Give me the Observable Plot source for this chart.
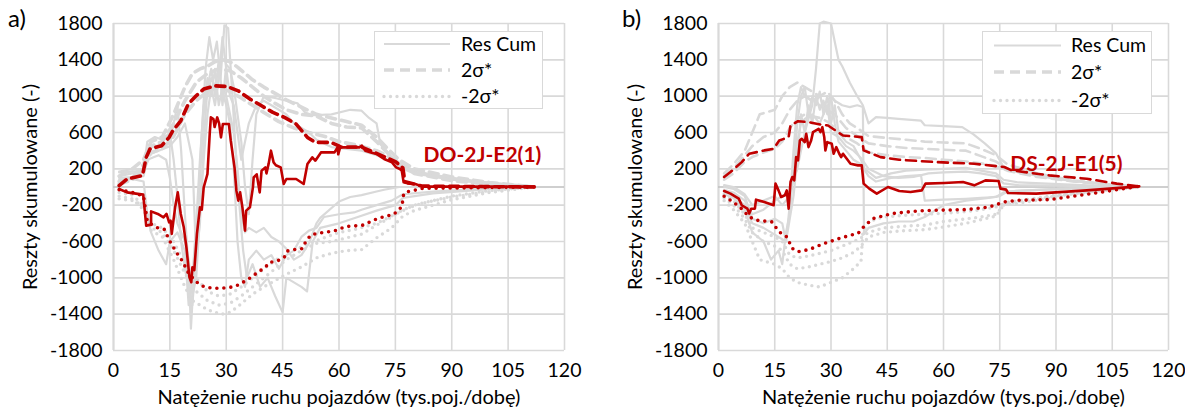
<!DOCTYPE html>
<html><head><meta charset="utf-8">
<script src="https://cdn.jsdelivr.net/npm/d3@7"></script>
<script src="https://cdn.jsdelivr.net/npm/@observablehq/plot@0.6"></script>
<style>
body{margin:0;background:#fff;font-family:Lato,"Open Sans",sans-serif;}
#wrap{position:relative;width:1185px;height:414px;overflow:hidden;}
.pnl{position:absolute;top:0;}
.tag{position:absolute;font-size:24px;color:#000;}
.legend{position:absolute;border:1.5px solid #d9d9d9;background:#fff;box-sizing:border-box;}
.legend svg{position:absolute;left:0;top:0;}
</style></head>
<body><div id="wrap"></div>
<script>
// ---------- axes ----------
const xTicks = [0,15,30,45,60,75,90,105,120];
const yTicks = [-1800,-1400,-1000,-600,-200,200,600,1000,1400,1800];
const xTitle = "Natężenie ruchu pojazdów (tys.poj./dobę)";
const yTitle = "Reszty skumulowane (-)";
const legendNames = ["Res Cum","2σ*","-2σ*"];

// ---------- panel a) : DO-2J-E2(1) ----------
const labelA = "DO-2J-E2(1)";
const redSolidA = [[1.5,-22],[3.6,-59],[7.9,-84],[8.7,-425],[10,-414],[10,-268],[11.8,-297],[13.3,-334],[14.1,-297],[14.8,-389],[15.2,-370],[15.5,-517],[16.4,-224],[17.1,-59],[17.9,-297],[18.7,-444],[19.4,-664],[20.2,-993],[20.7,-1048],[21,-883],[21.5,-915],[22.2,-517],[23,-224],[23.5,-250],[24,-4],[25,143],[25.6,583],[25.9,766],[26.6,748],[26.9,660],[27.6,766],[28.1,700],[28.6,546],[29.1,693],[30.7,693],[31.2,510],[32.2,216],[32.7,-40],[33.2,-150],[33.7,-59],[34.3,-224],[35,-480],[35.3,-260],[36.3,-224],[37.1,-4],[37.3,106],[38.1,140],[38.9,-59],[39.4,180],[40.4,216],[40.7,150],[41.3,260],[41.9,400],[42.6,271],[43.2,240],[44.5,216],[45.3,33],[46,88],[48.6,88],[50.6,33],[51.6,253],[52.9,326],[53.7,290],[55.2,381],[58.8,381],[59.6,436],[59.8,360],[60.3,436],[65.4,436],[66.1,455],[67,400],[68.5,381],[70,363],[72,308],[74.1,271],[75.2,216],[76.2,198],[76.7,180],[77.2,51],[78.2,40],[80.3,33],[82.3,4],[112,4]];
const redDashA = [[1.5,15],[3.6,88],[7.7,125],[8.7,326],[9.7,418],[12.8,455],[14.8,546],[15.8,620],[17.9,729],[19.9,913],[22,1004],[24,1078],[27.1,1114],[30.2,1107],[33.2,1059],[36.3,968],[39.4,894],[42.4,821],[45.5,766],[48.6,693],[51.6,546],[53.7,491],[57.8,491],[59.8,455],[60.5,440],[66,440],[70,370],[75,280],[77,210],[77.5,60],[82,10],[112,0]];
const redDotA = [[1.5,-30],[5,-60],[8,-100],[9,-380],[11.2,-443],[13.5,-466],[15.2,-613],[17,-737],[18.3,-814],[20.1,-960],[22.3,-1052],[24.1,-1100],[26.3,-1114],[28.5,-1114],[30.7,-1107],[32.5,-1092],[35.6,-1023],[38.3,-942],[40.5,-880],[41.4,-832],[43.6,-814],[45.4,-777],[46.3,-704],[48.5,-686],[50.3,-678],[51.1,-605],[52.5,-528],[54.3,-510],[58.7,-484],[61.8,-436],[64,-429],[66.2,-422],[68.4,-382],[70.2,-348],[72.4,-323],[74.6,-301],[76.9,-209],[76.9,-110],[77.7,-55],[80,-37],[82.2,-15],[112,0]];
const greySolidA1 = [[1.5,160],[5,170],[8,180],[9,420],[12,460],[15,480],[16,700],[17,900],[18,400],[19,-300],[20,-900],[20.6,-1560],[21.5,-900],[22.5,-200],[23.5,600],[24.5,1300],[25.5,1650],[26.5,1400],[27.5,1600],[28.5,1200],[29.5,1780],[30.5,1750],[31.5,1100],[32.5,400],[33.5,-200],[34.5,-700],[35.5,-1000],[37,-850],[39,-1100],[41,-1000],[43,-1200],[45,-1380],[46,-1000],[48,-1050],[50,-1100],[51.5,-1150],[53,-600],[55,-450],[60,-400],[65,-330],[70,-260],[75,-200],[77,-120],[85,-70],[100,-25],[112,0]];
const greySolidA2 = [[1.5,120],[5,150],[8,160],[9,350],[12,400],[15,450],[17,550],[19,700],[21,300],[22,-800],[23,-400],[24,500],[25,1100],[26,1300],[27,1000],[28,1400],[29,900],[30,1350],[31,1300],[32,1100],[33,800],[34,500],[35,0],[36,-300],[37,300],[38,800],[40,1000],[43,980],[46,950],[49,920],[51,820],[53,790],[58,800],[63,850],[66,840],[68,760],[70,700],[71,470],[73,380],[75,280],[77,220],[80,170],[85,130],[95,70],[105,20],[112,0]];
const greySolidA3 = [[1.5,80],[5,90],[8,60],[9,-300],[10,-500],[12,-700],[14,-850],[15,-600],[17,-500],[19,-700],[20,-1300],[21,-1000],[22,-400],[23,300],[24,900],[25,1000],[26,1200],[27,1100],[28,1300],[29,1050],[30,900],[31,700],[32,200],[33,-600],[34,-1000],[35,-1100],[36,-800],[38,-700],[40,-800],[42,-750],[44,-900],[46,-750],[48,-700],[50,-550],[52,-480],[54,-450],[56,-330],[60,-300],[64,-280],[66,-250],[70,-200],[74,-150],[77,-80],[85,-50],[100,-15],[112,0]];
const greySolidA4 = [[1.5,170],[4,190],[8,200],[9,500],[11,550],[13,520],[15,600],[16,300],[17,-100],[18,-600],[19,-900],[20,-1100],[21,-1300],[22,-700],[23,100],[24,800],[25,1200],[26,1000],[27,1300],[28,900],[29,1100],[30,1000],[31,800],[32,600],[33,200],[34,-300],[35,-500],[36,-450],[38,-500],[40,-450],[42,-550],[44,-600],[46,-680],[48,-800],[50,-750],[52,-620],[54,-400],[55,-340],[60,-160],[63,-110],[66,-90],[70,-50],[72,-30],[76,0],[80,0],[112,0]];
const greySolidA5 = [[1.5,100],[5,110],[8,120],[9,300],[12,350],[14,300],[15,100],[16,-200],[17,-400],[19,-600],[20,-800],[21,-1200],[22,-1000],[23,-300],[24,300],[25,800],[26,1100],[27,900],[28,1200],[29,1650],[30,1300],[31,1000],[32,900],[33,600],[34,300],[35,500],[36,700],[38,900],[40,950],[42,900],[44,850],[46,800],[48,700],[50,650],[52,600],[54,520],[56,480],[58,440],[62,420],[66,400],[70,350],[74,280],[77,200],[80,150],[90,80],[100,40],[112,0]];
const greyDashA1 = [[1.5,120],[5,200],[8,300],[10,500],[13,550],[16,800],[19,1100],[21,1250],[23,1300],[25,1330],[27,1380],[29,1400],[31,1380],[33,1320],[35,1250],[37,1180],[40,1100],[43,1030],[46,960],[50,880],[54,800],[58,760],[62,720],[66,680],[70,550],[73,420],[76,300],[80,200],[90,110],[100,50],[112,0]];
const greyDashA2 = [[1.5,60],[5,100],[8,250],[10,450],[13,500],[16,700],[19,950],[22,1150],[25,1250],[28,1300],[31,1280],[34,1200],[37,1100],[40,1000],[43,920],[46,850],[50,800],[54,780],[58,700],[62,660],[66,650],[70,500],[74,330],[77,220],[82,150],[90,90],[100,40],[112,0]];
const greyDashA3 = [[1.5,30],[5,80],[8,200],[10,380],[13,420],[16,560],[19,800],[22,950],[25,1050],[28,1100],[31,1050],[34,980],[37,900],[40,820],[44,720],[48,650],[52,600],[56,560],[60,500],[65,460],[70,400],[75,300],[80,150],[90,70],[100,30],[112,0]];
const greyDotA1 = [[1.5,-130],[5,-150],[8,-200],[10,-480],[13,-550],[16,-800],[19,-1100],[21,-1250],[23,-1300],[25,-1350],[27,-1380],[29,-1400],[31,-1380],[33,-1320],[35,-1250],[37,-1180],[40,-1100],[43,-1030],[46,-960],[50,-880],[54,-780],[58,-730],[62,-700],[66,-690],[70,-560],[74,-450],[77,-320],[80,-260],[90,-140],[100,-60],[112,0]];
const greyDotA2 = [[1.5,-100],[5,-130],[8,-250],[10,-450],[13,-500],[16,-700],[19,-950],[22,-1150],[25,-1250],[28,-1300],[31,-1280],[34,-1200],[37,-1100],[40,-1000],[43,-900],[46,-800],[50,-700],[54,-620],[58,-600],[62,-560],[66,-520],[70,-420],[74,-330],[77,-250],[82,-180],[90,-110],[100,-50],[112,0]];
const greyDotA3 = [[1.5,-60],[5,-90],[8,-200],[10,-400],[13,-450],[16,-600],[19,-850],[22,-1000],[25,-1150],[28,-1200],[31,-1180],[34,-1100],[37,-1000],[40,-900],[44,-780],[48,-700],[52,-620],[56,-560],[60,-500],[65,-460],[70,-400],[75,-300],[80,-200],[90,-100],[100,-40],[112,0]];

// ---------- panel b) : DS-2J-E1(5) ----------
const labelB = "DS-2J-E1(5)";
const redSolidB = [[1.5,-44],[3.2,-73],[5.4,-128],[6.2,-201],[7.7,-238],[8.2,-293],[8.7,-240],[9.7,-238],[10,-139],[12.2,-165],[14.7,-201],[15.2,37],[16,-37],[16.7,-110],[17.7,-91],[18.2,-37],[18.7,-238],[19.2,55],[19.7,110],[20.2,73],[20.7,329],[21.2,293],[21.7,512],[22.2,531],[23,494],[23.4,585],[24,439],[24.7,512],[25.2,604],[26.7,640],[27.2,604],[27.7,659],[28.2,549],[28.5,403],[29,494],[30.2,476],[30.7,366],[31.4,439],[32.2,366],[32.7,329],[33.2,366],[34.2,311],[35.2,256],[37.2,238],[38.2,238],[38.7,37],[40.2,-18],[42.2,-73],[45.2,0],[48.2,-44],[51.2,-55],[54.2,-37],[55.2,37],[60.2,44],[65.2,55],[68.2,18],[71.2,73],[74.7,66],[75.2,-18],[76.7,-29],[77.2,-66],[84.7,-73],[98.2,-37],[112.2,7]];
const redDashB = [[1.5,110],[3.2,165],[6.2,274],[8.2,366],[10.2,384],[12.2,403],[14.7,421],[16.2,512],[18.7,549],[19.2,677],[21.2,724],[24.2,713],[27.2,688],[29.2,677],[31.2,622],[33.2,567],[38.2,549],[38.7,403],[43.2,329],[48.2,300],[58.2,274],[68.2,256],[76.2,220],[78.2,183],[88.2,128],[98.2,91],[106.2,37],[112,7]];
const redDotB = [[1.5,-102],[3.2,-146],[5.7,-220],[8.2,-329],[10.2,-366],[14.2,-384],[16.2,-494],[18.2,-549],[19.7,-677],[21.2,-713],[24.2,-688],[28.2,-622],[32.2,-567],[35.2,-531],[37.2,-512],[38.7,-439],[41.2,-348],[46.2,-293],[53.2,-263],[58.2,-256],[66.2,-249],[72.2,-220],[76.2,-165],[80.2,-146],[88.2,-139],[98.2,-80],[108.2,-18],[112,7]];
const greySolidB1 = [[1.5,-30],[4,-60],[7,-150],[9,-300],[12,-250],[15,-150],[17,-100],[19,-50],[21,200],[23,600],[25,900],[26,1300],[27,1800],[28,1820],[30,1800],[31,1600],[32,1400],[33,1330],[35,1150],[37,1000],[38.5,900],[40,700],[42,770],[45,760],[48,750],[54,730],[55,680],[60,670],[65,660],[68,580],[71,480],[74,370],[76,220],[80,160],[90,90],[100,40],[112,0]];
const greySolidB2 = [[1.5,-80],[4,-120],[7,-250],[9,-500],[12,-600],[14,-800],[16,-700],[17,-850],[18,-500],[19,-300],[20,200],[21,700],[22,1000],[23,1100],[24,800],[25,1000],[26,900],[27,1050],[28,800],[29,1000],[30,700],[31,900],[32,600],[34,500],[36,450],[38,300],[39,200],[42,100],[46,150],[50,180],[55,190],[60,200],[66,210],[70,180],[74,150],[76,80],[80,50],[100,15],[112,0]];
const greySolidB3 = [[1.5,-50],[4,-100],[7,-200],[9,-400],[12,-450],[14,-500],[16,-550],[18,-600],[19,-350],[20,-100],[21,300],[22,800],[23,600],[24,900],[25,700],[26,1000],[27,850],[28,950],[29,800],[30,1000],[31,700],[32,500],[34,400],[36,300],[38,250],[40,120],[42,60],[46,100],[50,120],[54,130],[55,-150],[60,-140],[66,-130],[70,-120],[74,-110],[76,-60],[80,-40],[100,-10],[112,0]];
const greySolidB4 = [[1.5,0],[4,-20],[7,-100],[9,-350],[12,-400],[15,-350],[17,-400],[18,-600],[19,-200],[20,400],[21,900],[22,1100],[23,1000],[25,950],[27,1000],[28,900],[30,1000],[31,950],[33,900],[35,880],[37,900],[38.5,880],[38.8,-520],[40,-450],[44,-400],[48,-380],[52,-380],[55,-330],[60,-200],[66,-150],[72,-120],[75,-100],[77,-50],[90,-20],[112,0]];
const greySolidB5 = [[1.5,20],[4,0],[7,-80],[9,-200],[12,-150],[15,-100],[17,-200],[19,-100],[20,100],[21,500],[22,700],[23,750],[25,800],[27,700],[29,900],[30,600],[32,550],[34,450],[36,400],[38,320],[40,200],[44,120],[48,100],[52,110],[56,150],[60,160],[66,170],[70,150],[74,120],[76,40],[80,20],[112,0]];
const greyDashB1 = [[1.5,150],[4,250],[7,400],[9,600],[11,800],[15,850],[17,1000],[19,1100],[21,1150],[23,1100],[25,1050],[27,1000],[29,1050],[31,950],[33,800],[35,700],[37,650],[40,560],[45,540],[50,520],[55,500],[60,490],[66,480],[70,420],[74,350],[77,250],[85,150],[95,70],[105,25],[112,0]];
const greyDashB2 = [[1.5,120],[4,200],[7,350],[9,450],[12,550],[15,600],[17,700],[19,850],[21,950],[23,1000],[25,950],[27,900],[29,850],[31,800],[34,650],[37,560],[40,480],[45,450],[50,430],[55,420],[60,410],[66,400],[70,340],[74,280],[77,200],[85,120],[95,60],[112,0]];
const greyDashB3 = [[1.5,80],[4,150],[7,280],[9,330],[12,380],[15,420],[17,500],[19,650],[21,750],[23,800],[25,780],[27,760],[29,720],[31,650],[34,550],[37,480],[40,380],[45,350],[50,330],[55,320],[60,300],[66,280],[70,260],[74,230],[77,180],[85,110],[95,60],[112,0]];
const greyDotB1 = [[1.5,-150],[4,-250],[7,-400],[9,-600],[11,-800],[15,-850],[17,-900],[19,-1000],[21,-1050],[24,-1080],[27,-1100],[30,-1050],[33,-1000],[36,-900],[38,-820],[38.5,-500],[40,-380],[44,-330],[50,-310],[55,-300],[60,-290],[66,-270],[70,-250],[74,-220],[77,-170],[85,-120],[95,-60],[112,0]];
const greyDotB2 = [[1.5,-120],[4,-200],[7,-350],[9,-500],[12,-600],[15,-650],[17,-700],[19,-850],[21,-900],[24,-880],[27,-850],[30,-820],[33,-780],[36,-720],[38,-650],[40,-550],[44,-500],[50,-480],[55,-470],[60,-440],[66,-400],[70,-360],[74,-320],[76,-200],[80,-160],[90,-100],[100,-50],[112,0]];
const greyDotB3 = [[1.5,-80],[4,-150],[7,-300],[9,-450],[12,-500],[15,-550],[17,-600],[19,-750],[21,-780],[24,-760],[27,-730],[30,-700],[33,-650],[36,-600],[38,-560],[40,-500],[44,-450],[50,-430],[55,-420],[60,-380],[66,-350],[70,-330],[74,-300],[76,-200],[80,-180],[90,-110],[100,-50],[112,0]];

// label anchors (data units)
const labelAnchorA = {x: 82.5, y: 345};
const labelAnchorB = {x: 77.8, y: 248};

// ---------- styles ----------
const RED = "#c00000", GREY = "#d9d9d9", GRID = "#d9d9d9", ZERO = "#bfbfbf";
const FONT = "Lato, 'Open Sans', sans-serif";
const FS = 19.5;

const rows = (pts, z) => pts.map(([x, y]) => ({x, y, z}));
const group = list => list.flatMap((p, i) => rows(p, i));
const fmt = d => String(d);

function panel(o) {
  return Plot.plot({
    width: o.width, height: 414,
    marginLeft: o.ml, marginRight: o.mr, marginTop: 23, marginBottom: 64,
    style: {fontFamily: FONT, fontSize: FS + "px", color: "#000", background: "#fff"},
    x: {domain: [0, 120]},
    y: {domain: [-1800, 1800]},
    marks: [
      Plot.gridX(xTicks, {stroke: GRID, strokeOpacity: 1, strokeWidth: 1.6}),
      Plot.gridY(yTicks, {stroke: GRID, strokeOpacity: 1, strokeWidth: 1.6}),
      Plot.ruleX([0], {stroke: GRID, strokeWidth: 2}),
      Plot.ruleY([0], {stroke: ZERO, strokeWidth: 1.3}),
      Plot.line(group(o.gSolid), {x: "x", y: "y", z: "z", stroke: GREY, strokeWidth: 2.2}),
      Plot.line(group(o.gDash), {x: "x", y: "y", z: "z", stroke: GREY, strokeWidth: o.dashW, strokeDasharray: o.dashArr}),
      Plot.line(group(o.gDot), {x: "x", y: "y", z: "z", stroke: GREY, strokeWidth: 3.4, strokeDasharray: "0 6.5", strokeLinecap: "round"}),
      Plot.line(rows(o.rDot), {x: "x", y: "y", stroke: RED, strokeWidth: 3.6, strokeDasharray: "0 7", strokeLinecap: "round"}),
      Plot.line(rows(o.rDash), {x: "x", y: "y", stroke: RED, strokeWidth: o.dashW, strokeDasharray: o.dashArr}),
      Plot.line(rows(o.rSolid), {x: "x", y: "y", stroke: RED, strokeWidth: 2.6}),
      Plot.text([o.label], {x: o.anchor.x, y: o.anchor.y, text: d => d, textAnchor: "start", fill: RED, fontWeight: "bold", fontSize: 21}),
      Plot.axisX(xTicks, {tickSize: 0, tickPadding: 13, fontSize: FS, tickFormat: fmt, label: null}),
      Plot.axisY(yTicks, {tickSize: 0, tickPadding: 11, fontSize: FS, tickFormat: fmt, label: null}),
      Plot.text([xTitle], {frameAnchor: "bottom", dy: 53, fontSize: FS + 0.5, fill: "#000"}),
      Plot.text([yTitle], {frameAnchor: "left", dx: -83, rotate: -90, textAnchor: "middle", fontSize: FS + 0.5, fill: "#000"})
    ]
  });
}

const wrap = document.getElementById("wrap");
function place(el, left) { el.classList.add("pnl"); el.style.left = left + "px"; wrap.appendChild(el); }

place(panel({width: 600, ml: 113, mr: 36, gSolid: [greySolidA1, greySolidA2, greySolidA3, greySolidA4, greySolidA5],
  gDash: [greyDashA1, greyDashA2, greyDashA3], gDot: [greyDotA1, greyDotA2, greyDotA3],
  rSolid: redSolidA, rDash: redDashA, rDot: redDotA, dashW: 3.6, dashArr: "9 6", label: labelA, anchor: labelAnchorA}), 0);
place(panel({width: 585, ml: 118, mr: 17, gSolid: [greySolidB1, greySolidB2, greySolidB3, greySolidB4, greySolidB5],
  gDash: [greyDashB1, greyDashB2, greyDashB3], gDot: [greyDotB1, greyDotB2, greyDotB3],
  rSolid: redSolidB, rDash: redDashB, rDot: redDotB, dashW: 2.6, dashArr: "10 6", label: labelB, anchor: labelAnchorB}), 600);

// panel tags
[["a)", 8], ["b)", 622]].forEach(([t, l]) => {
  const d = document.createElement("div"); d.className = "tag"; d.textContent = t;
  d.style.left = l + "px"; d.style.top = "3px"; wrap.appendChild(d);
});

// legends
function legend(left, top, w, h, rowsY, sampleX, textX) {
  const box = document.createElement("div"); box.className = "legend";
  Object.assign(box.style, {left: left + "px", top: top + "px", width: w + "px", height: h + "px"});
  const svg = d3.create("svg").attr("width", w).attr("height", h);
  const styles = [
    {dash: null, w: 2.2, cap: "butt"},
    {dash: "10 6", w: 3.4, cap: "butt"},
    {dash: "0 6.5", w: 3.4, cap: "round"}
  ];
  legendNames.forEach((name, i) => {
    svg.append("line").attr("x1", sampleX[0]).attr("x2", sampleX[1]).attr("y1", rowsY[i]).attr("y2", rowsY[i])
      .attr("stroke", GREY).attr("stroke-width", styles[i].w).attr("stroke-dasharray", styles[i].dash)
      .attr("stroke-linecap", styles[i].cap);
    svg.append("text").attr("x", textX).attr("y", rowsY[i]).attr("dy", "0.35em")
      .attr("font-family", FONT).attr("font-size", FS).attr("fill", "#000").text(name);
  });
  box.appendChild(svg.node());
  wrap.appendChild(box);
}
legend(374, 31, 169, 78, [12, 38, 64.5], [9, 75], 86);
legend(982, 31, 170, 83, [13.5, 40, 68.5], [11, 78], 88);
</script></body></html>
